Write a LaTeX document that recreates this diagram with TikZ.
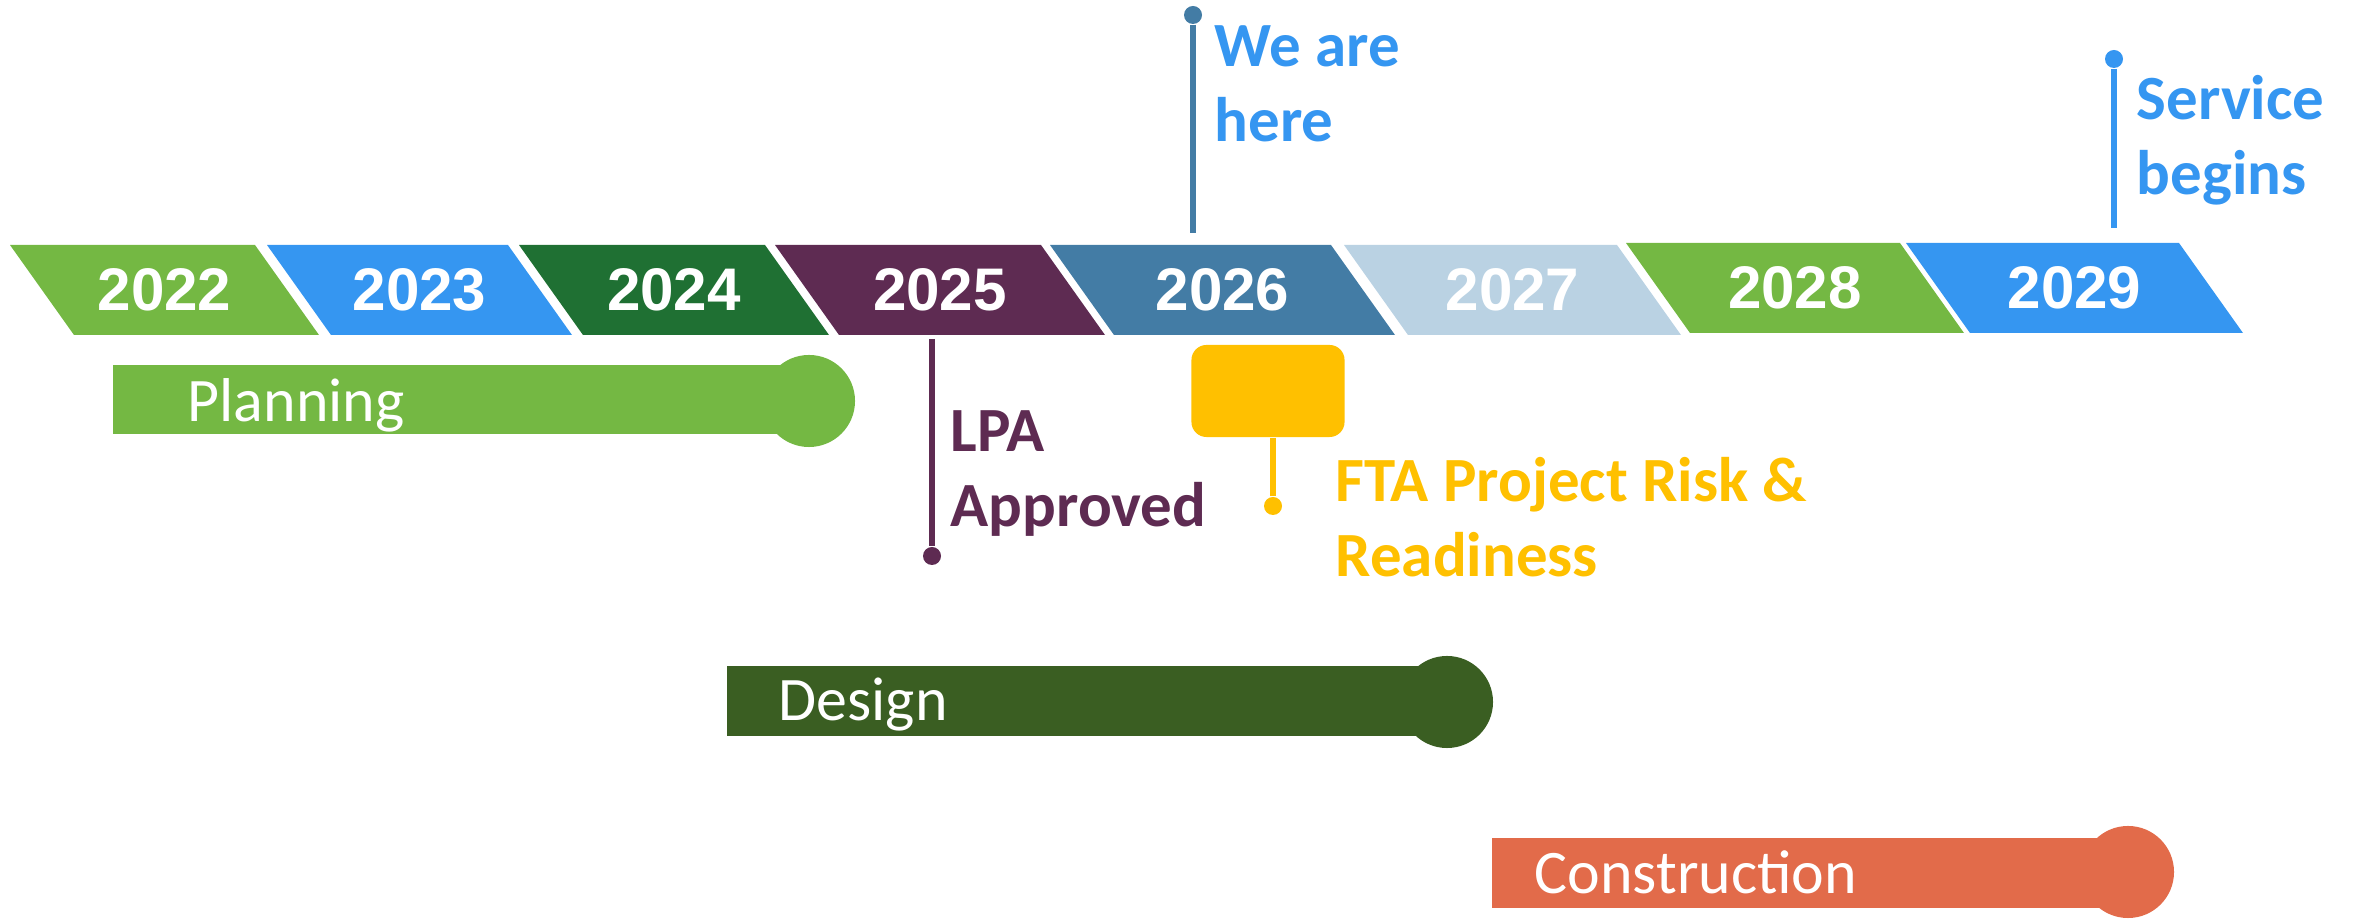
\documentclass[tikz,border=0pt]{standalone}
\usepackage{fontspec}
\setmainfont{Carlito}
\newfontfamily\yearfont{Liberation Sans}
\usetikzlibrary{positioning}

\definecolor{leaf}{HTML}{74B843}
\definecolor{sky}{HTML}{3596F1}
\definecolor{forest}{HTML}{1F7033}
\definecolor{plum}{HTML}{5E2B52}
\definecolor{steel}{HTML}{437CA5}
\definecolor{mist}{HTML}{BAD2E3}
\definecolor{moss}{HTML}{3A5E22}
\definecolor{coral}{HTML}{E26B4A}
\definecolor{amber}{HTML}{FFC000}

\tikzset{
  yeartext/.style={text=white, inner sep=0pt, font=\yearfont\bfseries\fontsize{17.1pt}{20pt}\selectfont},
  pinline/.style={line width=1.6pt},
  pindot/.style={circle, inner sep=0pt, minimum size=0.18cm},
  pintext/.style={anchor=base west, align=left, inner sep=0pt, font=\bfseries\fontsize{17.9pt}{21.6pt}\selectfont},
  bartext/.style={anchor=base west, inner sep=0pt, text=white, font=\fontsize{17.6pt}{21pt}\selectfont},
}

\begin{document}
\begin{tikzpicture}[x=0.01cm, y=-0.01cm]
                \useasboundingbox (0,0) rectangle (2356,919);
                % years
                \foreach \xl/\w/\top/\col/\yr in {10/245/245/leaf/2022, 267/241/245/sky/2023,
                    519/246/245/forest/2024, 775/266/245/plum/2025, 1050/281/245/steel/2026,
                    1344/273/245/mist/2027, 1626/274/243/leaf/2028, 1906/273/243/sky/2029}{
                    \fill[\col] (\xl,\top) -- ++(\w,0) -- ++(64,90) -- ++(-\w,0) -- cycle;
                    \node[yeartext] (y\yr) at (\xl+\w/2+32,\top+45) {\yr};
                }
                % milestones
                \node[pindot, fill=steel] (hereDot) at (1193,15) {};
                \coordinate (hereFoot) at (1193,233);
                \draw[pinline, steel] (hereDot) -- (hereFoot);
                \node[pintext, text=sky] (here) at (1214,142) {We are\\here};

                \node[pindot, fill=sky] (serviceDot) at (2114,59) {};
                \coordinate (serviceFoot) at (2114,228);
                \draw[pinline, sky] (serviceDot) -- (serviceFoot);
                \node[pintext, text=sky] (service) at (2136,195) {Service\\begins};

                \coordinate (lpaTop) at (932,339);
                \node[pindot, fill=plum] (lpaDot) at (932,556) {};
                \draw[pinline, plum] (lpaTop) -- (lpaDot);
                \node[pintext, text=plum] (lpa) at (950,527) {LPA\\Approved};

                \node[fill=amber, rounded corners=0.15cm, minimum width=1.53cm, minimum height=0.92cm, inner sep=0pt] (ftaBox) at (1268,391) {};
                \node[pindot, fill=amber] (ftaDot) at (1273,506) {};
                \draw[pinline, amber] (ftaDot) -- (ftaDot |- ftaBox.south);
                \node[pintext, text=amber] (fta) at (1335,577) {FTA Project Risk \&\\Readiness};
                % phases
                \fill[leaf] (113,365) rectangle (809,434);
                \fill[leaf] (809,401) circle (0.46cm);
                \node[bartext] (planning) at (187,422) {Planning};

                \fill[moss] (727,666) rectangle (1447,736);
                \fill[moss] (1447,702) circle (0.46cm);
                \node[bartext] (design) at (778,721) {Design};

                \fill[coral] (1492,838) rectangle (2128,908);
                \fill[coral] (2128,872) circle (0.46cm);
                \node[bartext] (construction) at (1534,894) {Construction};
            \end{tikzpicture}
\end{document}
